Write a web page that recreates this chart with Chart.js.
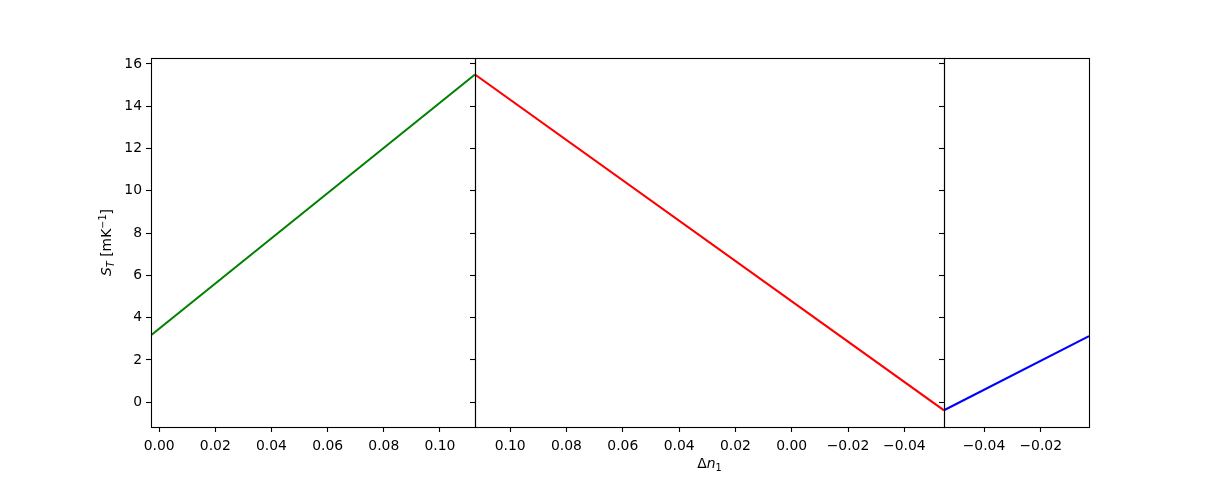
<!DOCTYPE html>
<html><head><meta charset="utf-8">
<script src="https://cdn.jsdelivr.net/npm/chart.js@4.4.0/dist/chart.umd.min.js"></script>
<style>
html,body{margin:0;padding:0;background:#fff;}
#wrap{position:relative;width:1210px;height:480px;background:#fff;}
canvas{position:absolute;left:0;top:0;}
</style></head><body>
<div id="wrap">
<canvas id="c1" width="1210" height="480"></canvas>
<canvas id="c2" width="1210" height="480"></canvas>
<canvas id="c3" width="1210" height="480"></canvas>
</div>
<script>
// ---- data ----
const greenX = [-0.0029, 0.1125];
const greenY = [3.17, 15.50];
const redX = [0.1125, -0.0541];
const redY = [15.50, -0.38];
const blueX = [-0.0541, -0.0030];
const blueY = [-0.38, 3.13];

const yTicks = [0, 2, 4, 6, 8, 10, 12, 14, 16];
const x1Ticks = [0.00, 0.02, 0.04, 0.06, 0.08, 0.10];
const x2Ticks = [0.10, 0.08, 0.06, 0.04, 0.02, 0.00, -0.02, -0.04];
const x3Ticks = [-0.04, -0.02];

const yRange = [-1.17, 16.28];
const x1Range = [-0.0029, 0.1125];
const x2Range = [-0.0541, 0.1125];
const x3Range = [-0.0541, -0.0030];

const FONT = 'DejaVu Sans';
const FS = 13.9;
const W = 1210, H = 480;
const TOP = 58, BOTTOM = 427;

function pts(xs, ys) { return xs.map((x, i) => ({x: x, y: ys[i]})); }
function fmtX(v) { return (v < 0 ? '\u2212' : '') + Math.abs(v).toFixed(2); }

const framePlugin = {
  id: 'frame',
  afterDraw(chart) {
    const a = chart.chartArea, ctx = chart.ctx;
    ctx.save();
    ctx.strokeStyle = '#000';
    ctx.lineWidth = 1.1;
    ctx.strokeRect(Math.round(a.left) + 0.5, Math.round(a.top) + 0.5,
                   Math.round(a.right) - Math.round(a.left), Math.round(a.bottom) - Math.round(a.top));
    ctx.restore();
  }
};

function drawPieces(ctx, pieces, cx, baseY) {
  let total = 0;
  pieces.forEach(p => { ctx.font = p.font; p.w = ctx.measureText(p.t).width; total += p.w; });
  let x = cx - total / 2;
  pieces.forEach(p => {
    ctx.font = p.font;
    ctx.fillText(p.t, x, baseY + (p.dy || 0));
    x += p.w;
  });
}

const yLabelPlugin = {
  id: 'ylab',
  afterDraw(chart) {
    const ctx = chart.ctx;
    ctx.save();
    ctx.fillStyle = '#000';
    ctx.textBaseline = 'alphabetic';
    ctx.translate(106, (TOP + BOTTOM) / 2);
    ctx.rotate(-Math.PI / 2);
    drawPieces(ctx, [
      {t: 'S', font: `italic ${FS}px "${FONT}"`},
      {t: 'T', font: `italic ${FS * 0.7}px "${FONT}"`, dy: 2.5},
      {t: ' [mK', font: `${FS}px "${FONT}"`},
      {t: '\u22121', font: `${FS * 0.7}px "${FONT}"`, dy: -5},
      {t: ']', font: `${FS}px "${FONT}"`}
    ], 0, 5);
    ctx.restore();
  }
};

const xLabelPlugin = {
  id: 'xlab',
  afterDraw(chart) {
    const ctx = chart.ctx;
    ctx.save();
    ctx.fillStyle = '#000';
    ctx.textBaseline = 'alphabetic';
    drawPieces(ctx, [
      {t: '\u0394', font: `${FS}px "${FONT}"`},
      {t: 'n', font: `italic ${FS}px "${FONT}"`},
      {t: '1', font: `${FS * 0.7}px "${FONT}"`, dy: 2.5}
    ], 709.5, 468);
    ctx.restore();
  }
};

function makeChart(id, opts) {
  const yAxisW = opts.showY ? opts.left : 10;
  return new Chart(document.getElementById(id), {
    type: 'line',
    data: {
      datasets: [{
        data: pts(opts.xs, opts.ys),
        borderColor: opts.color,
        borderWidth: 2.1,
        pointRadius: 0,
        tension: 0,
        fill: false
      }]
    },
    options: {
      responsive: false,
      animation: false,
      devicePixelRatio: 1,
      events: [],
      layout: {padding: {left: opts.showY ? 0 : opts.left - 10, right: W - opts.right, top: TOP, bottom: 0}},
      plugins: {legend: {display: false}, tooltip: {enabled: false}, title: {display: false}},
      scales: {
        x: {
          type: 'linear',
          reverse: !!opts.reverse,
          min: opts.range[0], max: opts.range[1],
          afterFit(s) { s.height = H - BOTTOM; },
          afterBuildTicks(s) { s.ticks = opts.ticks.map(v => ({value: v})); },
          grid: {display: true, drawOnChartArea: false, drawTicks: true, tickLength: 5, tickWidth: 1.1, tickColor: '#000'},
          border: {display: false},
          ticks: {
            color: '#000', font: {family: FONT, size: FS}, padding: 6,
            maxRotation: 0, autoSkip: false,
            callback: v => fmtX(v)
          }
        },
        y: {
          type: 'linear',
          min: yRange[0], max: yRange[1],
          afterFit(s) { s.width = yAxisW; },
          afterBuildTicks(s) { s.ticks = yTicks.map(v => ({value: v})); },
          grid: {display: true, drawOnChartArea: false, drawTicks: true, tickLength: 5, tickWidth: 1.1, tickColor: '#000'},
          border: {display: false},
          ticks: {
            display: !!opts.showY,
            color: '#000', font: {family: FONT, size: FS}, padding: 4,
            callback: v => String(v)
          }
        }
      }
    },
    plugins: [framePlugin].concat(opts.extra || [])
  });
}

makeChart('c1', {xs: greenX, ys: greenY, color: '#008000', range: x1Range, ticks: x1Ticks,
  left: 151, right: 475, showY: true, extra: [yLabelPlugin]});
makeChart('c2', {xs: redX, ys: redY, color: '#ff0000', range: x2Range, ticks: x2Ticks,
  left: 475, right: 944, reverse: true, extra: [xLabelPlugin]});
makeChart('c3', {xs: blueX, ys: blueY, color: '#0000ff', range: x3Range, ticks: x3Ticks,
  left: 944, right: 1089});
</script>
</body></html>
